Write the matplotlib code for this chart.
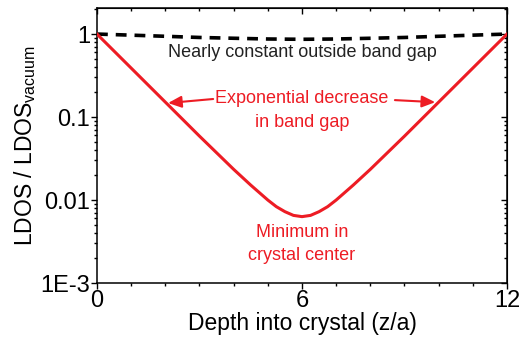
import numpy as np
import matplotlib
matplotlib.use("Agg")
import matplotlib.pyplot as plt
from matplotlib.ticker import LogLocator, FixedLocator, NullFormatter

plt.rcParams['font.family'] = ['Liberation Sans', 'DejaVu Sans']

# values (LDOS relative to vacuum)
depth = [0, 0.5, 1, 1.5, 2, 2.5, 3, 3.5, 4, 4.5, 4.75, 5, 5.25, 5.5, 5.75, 6,
         6.25, 6.5, 6.75, 7, 7.25, 7.5, 8, 8.5, 9, 9.5, 10, 10.5, 11, 11.5, 12]
log_ldos_gap = [0.0, -0.205, -0.41, -0.615, -0.82, -1.025, -1.23, -1.43, -1.63, -1.82, -1.91, -2.0,
                -2.08, -2.14, -2.185, -2.2,
                -2.185, -2.14, -2.08, -2.0, -1.91, -1.82, -1.63, -1.43, -1.23, -1.025, -0.82, -0.615,
                -0.41, -0.205, 0.0]
ldos_gap = [10 ** v for v in log_ldos_gap]
depth_outside = [0, 1, 2, 3, 4, 5, 6, 7, 8, 9, 10, 11, 12]
ldos_outside = [1.0, 0.97, 0.94, 0.91, 0.89, 0.872, 0.865, 0.872, 0.89, 0.91, 0.94, 0.97, 1.0]

red = '#ED1C24'

fig = plt.figure(figsize=(5.2, 3.41), dpi=100)
ax = fig.add_axes([0.1865, 0.170, 0.7885, 0.8065])

ax.plot(depth_outside, ldos_outside, color='black', linewidth=2.6, dashes=(3, 2.2), zorder=3)
ax.plot(depth, ldos_gap, color=red, linewidth=2.2, zorder=4, solid_joinstyle='round')

ax.set_yscale('log')
ax.set_xlim(0, 12)
ax.set_ylim(1e-3, 2.06)

ax.set_xticks([0, 6, 12])
ax.xaxis.set_minor_locator(FixedLocator(range(13)))
ax.set_yticks([1e-3, 1e-2, 1e-1, 1])
ax.set_yticklabels(['1E-3', '0.01', '0.1', '1'])
ax.yaxis.set_minor_locator(LogLocator(base=10, subs=np.arange(2, 10)))
ax.yaxis.set_minor_formatter(NullFormatter())

ax.tick_params(which='major', direction='out', length=4, width=1, labelsize=17, pad=1)
ax.tick_params(which='minor', direction='out', length=2.5, width=1)
for s in ax.spines.values():
    s.set_linewidth(1.1)

# mirrored ticks pointing inward on top and right
top = ax.secondary_xaxis('top')
top.set_xticks([0, 6, 12], labels=[])
top.xaxis.set_minor_locator(FixedLocator(range(13)))
top.tick_params(which='major', direction='in', length=4, width=1)
top.tick_params(which='minor', direction='in', length=2.5, width=1)
right = ax.secondary_yaxis('right')
right.set_yticks([1e-3, 1e-2, 1e-1, 1], labels=[])
right.yaxis.set_minor_locator(LogLocator(base=10, subs=np.arange(2, 10)))
right.yaxis.set_minor_formatter(NullFormatter())
right.tick_params(which='major', direction='in', length=4, width=1)
right.tick_params(which='minor', direction='in', length=2.5, width=1)

ax.set_xlabel('Depth into crystal (z/a)', fontsize=16.5, labelpad=0)
ax.set_ylabel('LDOS / LDOS$_{\\mathregular{vacuum}}$', fontsize=16.5, labelpad=2)

ax.text(6, 0.607, 'Nearly constant outside band gap', fontsize=13, ha='center', va='center',
        color='#222222')
ax.text(6, 0.169, 'Exponential decrease', fontsize=13, ha='center', va='center', color=red)
ax.text(6, 0.087, 'in band gap', fontsize=13, ha='center', va='center', color=red)
ax.text(6, 0.0041, 'Minimum in', fontsize=13, ha='center', va='center', color=red)
ax.text(6, 0.00217, 'crystal center', fontsize=13, ha='center', va='center', color=red)

arrow = dict(arrowstyle='-|>,head_length=0.8,head_width=0.35', color=red, lw=1.5, shrinkA=0, shrinkB=0)
ax.annotate('', xy=(2.08, 0.1475), xytext=(3.4, 0.165), arrowprops=arrow)
ax.annotate('', xy=(9.9, 0.151), xytext=(8.72, 0.16), arrowprops=arrow)

fig.savefig('out.png', dpi=100)
